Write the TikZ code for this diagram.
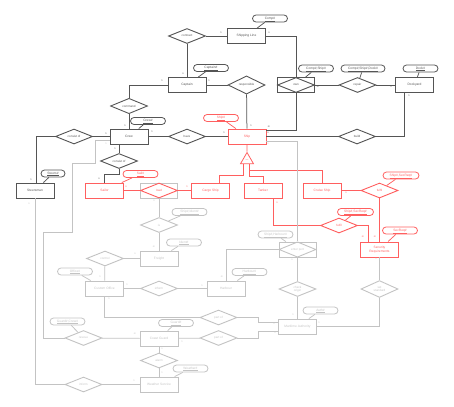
\documentclass[tikz,border=0pt]{standalone}
\usepackage{fontspec}
\setmainfont{Liberation Sans}
\usetikzlibrary{shapes.geometric,positioning}
\definecolor{dk}{RGB}{85,85,85}
\definecolor{rd}{RGB}{255,95,95}
\definecolor{gy}{RGB}{195,195,195}

\begin{document}
\begin{tikzpicture}[x=2pt,y=-2pt,
    ent/.style={draw, rectangle, line width=1.8pt, minimum width=76pt, minimum height=30pt,
                inner sep=1pt, align=center, font=\fontsize{6.5}{7}\selectfont},
    rel/.style={draw, diamond, line width=1.8pt, minimum width=74pt, minimum height=30pt,
                inner sep=0pt, align=center, font=\fontsize{6}{6.5}\selectfont},
    attr/.style={draw, rectangle, rounded corners=7pt, line width=1.6pt, minimum width=70pt,
                 minimum height=14pt, inner sep=1pt, text height=4.7pt, text depth=1pt,
                 font=\fontsize{6.5}{7}\selectfont},
    card/.style={inner sep=0pt, font=\fontsize{5}{5}\selectfont},
    ml/.style={draw=dk, line width=1.5pt},
    nl/.style={draw=rd, line width=1.5pt},
    gl/.style={draw=gy, line width=1.5pt}]
  \useasboundingbox (0,0) rectangle (454,406);

  % old schema (dark)
  \node[ent, dk] (shipline) at (246.5,36) {Shipping Line};
  \node[attr, dk] (compid) at (270,18.5) {\underline{Comp\#}};
  \node[rel, dk] (contract) at (187,36) {contract};
  \node[ent, dk] (captain) at (187,85) {Captain};
  \node[attr, dk] (captid) at (211,68) {\underline{Captain\#}};
  \node[rel, dk] (command) at (129,106) {command};
  \node[rel, dk] (responsible) at (246.5,85) {responsible};
  \node[ent, dk, minimum width=74pt] (ownbox) at (296,85) {};
  \node[rel, dk] (own) at (296,85) {own};
  \node[attr, dk] (ownid) at (316,68.5) {\underline{Comp\#,Ship\#}};
  \node[rel, dk] (repair) at (357.5,85) {repair};
  \node[attr, dk, minimum width=88pt] (repairid) at (363,68.5) {\underline{Comp\#,Ship\#,Dock\#}};
  \node[ent, dk] (dockyard) at (414.5,85) {Dockyard};
  \node[attr, dk] (dockid) at (420.5,68.5) {\underline{Dock\#}};
  \node[ent, dk] (crew) at (129,136.5) {Crew};
  \node[attr, dk] (crewid) at (148,121) {\underline{Crew\#}};
  \node[rel, dk] (consista) at (74,136.5) {consist of};
  \node[rel, dk] (consistb) at (119,161) {consist of};
  \node[ent, dk] (steersman) at (35,190.5) {Steersman};
  \node[attr, dk, minimum width=48pt] (steersid) at (53,173.5) {\underline{Steers\#}};
  \node[rel, dk] (have) at (187,136.5) {have};
  \node[rel, dk] (build) at (357,136.5) {build};

  % new part (red)
  \node[ent, rd] (ship) at (247,136.5) {Ship};
  \node[attr, rd] (shipid) at (221,118) {\underline{Ship\#}};
  \node[draw, rd, line width=1.6pt, regular polygon, regular polygon sides=3, minimum size=30pt,
        inner sep=0pt, font=\fontsize{3.5}{4}\selectfont] (isa) at (247,160) {is a};
  \node[ent, rd] (sailor) at (104.5,190.5) {Sailor};
  \node[attr, rd] (sailid) at (140.5,174) {\underline{Sail\#}};
  \node[ent, gy, minimum width=74pt] (loadbox) at (159,190.5) {};
  \node[rel, rd] (load) at (159,190.5) {load};
  \node[ent, rd] (cargo) at (210.5,190.5) {Cargo Ship};
  \node[ent, rd] (tanker) at (263,190.5) {Tanker};
  \node[ent, rd] (cruise) at (322,190.5) {Cruise Ship};
  \node[rel, rd] (fulfila) at (379.5,190.5) {fulfil};
  \node[attr, rd, minimum width=72pt] (fulfilaid) at (401,175.5) {\underline{Ship\#,SecReq\#}};
  \node[rel, rd] (fulfilb) at (339,225.5) {fulfil};
  \node[attr, rd, minimum width=72pt] (fulfilbid) at (355.5,212) {\underline{Ship\#,SecReq\#}};
  \node[ent, rd] (secreq) at (379.5,249.5) {Security\\Requirements};
  \node[attr, rd] (secreqid) at (400,230.5) {\underline{SecReq\#}};

  % other parts (grey)
  \node[rel, gy] (is) at (159,225) {is};
  \node[attr, gy] (isid) at (189.5,212) {\underline{Ship\#,Ident\#}};
  \node[ent, gy] (freight) at (159,258.5) {Freight};
  \node[attr, gy] (freightid) at (184,242.5) {\underline{Ident\#}};
  \node[rel, gy] (control) at (105,258.5) {control};
  \node[ent, gy] (custom) at (104.5,288.5) {Custom Office};
  \node[attr, gy] (officeid) at (75,271.5) {\underline{Office\#}};
  \node[rel, gy] (informa) at (159,288.5) {inform};
  \node[ent, gy] (harbour) at (226,288.5) {Harbour};
  \node[attr, gy] (harbourid) at (249.5,272) {\underline{Harbour\#}};
  \node[ent, gy, minimum width=74pt] (enterbox) at (297.5,249.5) {};
  \node[rel, gy] (enterport) at (297.5,249.5) {enter port};
  \node[attr, gy] (enterid) at (275.5,234.5) {\underline{Ship\#,Harbour\#}};
  \node[rel, gy] (check) at (297.5,289) {check\\origin};
  \node[rel, gy] (setstd) at (379.5,289) {set\\standard};
  \node[ent, gy] (maritime) at (297.5,326.5) {Maritime Authority};
  \node[attr, gy] (authid) at (320.5,310.5) {\underline{Auth\#}};
  \node[rel, gy] (partofa) at (218.5,317.5) {part of};
  \node[rel, gy] (partofb) at (218.5,338) {part of};
  \node[ent, gy] (coast) at (159,338.5) {Coast Guard};
  \node[attr, gy] (guardid) at (176,323) {\underline{Guard\#}};
  \node[rel, gy] (rescue) at (83.5,338) {rescue};
  \node[attr, gy] (rescueid) at (67.5,321.5) {\underline{Guard\#,Crew\#}};
  \node[rel, gy] (alarm) at (159,360.5) {alarm};
  \node[ent, gy] (weather) at (159,384.5) {Weather Service};
  \node[attr, gy] (weatherid) at (190.5,368.5) {\underline{Weather\#}};
  \node[rel, gy] (informb) at (83.5,384.5) {inform};

  % attribute links
  \draw[ml] (compid) -- (shipline);
  \draw[ml] (captid) -- (captain);
  \draw[ml] (ownid) -- (ownbox);
  \draw[ml] (repairid) -- (repair);
  \draw[ml] (dockid) -- (dockyard);
  \draw[ml] (crewid) -- (crew);
  \draw[ml] (steersid) -- (steersman);
  \draw[nl] (shipid) -- (ship);
  \draw[nl] (sailid) -- (sailor);
  \draw[nl] (fulfilaid) -- (fulfila);
  \draw[nl] (fulfilbid) -- (fulfilb);
  \draw[nl] (secreqid) -- (secreq);
  \foreach \a/\b in {isid/is, freightid/freight, officeid/custom, harbourid/harbour,
                     enterid/enterbox, authid/maritime, guardid/coast, rescueid/rescue,
                     weatherid/weather}
    \draw[gl] (\a) -- (\b);

  % dark connectors
  \draw[ml] (contract) -- (shipline);
  \draw[ml] (contract) -- (captain);
  \draw[ml] (captain.west) -| (command.north);
  \draw[ml] (command) -- (crew);
  \draw[ml] (captain) -- (responsible);
  \draw[ml] (responsible) -- (ship);
  \draw[ml] (shipline.east) -| (own.north);
  \draw[ml] (own.south) |- ([yshift=-3pt]ship.north east);
  \draw[ml] (own) -- (repair);
  \draw[ml] (repair) -- (dockyard);
  \draw[ml] ([xshift=-21pt]dockyard.south) |- (build.east);
  \draw[ml] (ship) -- (build);
  \draw[ml] (crew) -- (consista);
  \draw[ml] (consista.west) -| ([xshift=2pt]steersman.north);
  \draw[ml] (crew) -- (have);
  \draw[ml] (have) -- (ship);
  \draw[ml] ([xshift=-20pt]crew.south) -- (consistb.north);
  \draw[ml] (consistb.south) -- ++(0,5) -| (sailor.north);

  % red connectors
  \draw[nl] (ship) -- (isa.north);
  \draw[nl] ([xshift=-8pt]isa.south) |- ([xshift=17pt,yshift=14pt]cargo.north) -- ([xshift=17pt]cargo.north);
  \draw[nl] ([xshift=4pt]isa.south) |- ([yshift=12pt]tanker.north) -- (tanker.north);
  \draw[nl] ([xshift=4pt]isa.south) |- ([yshift=24pt]cruise.north) -- (cruise.north);
  \draw[nl] (sailor) -- (load);
  \draw[nl] (load) -- (cargo);
  \draw[nl] (cruise) -- (fulfila);
  \draw[nl] (fulfila) -- (secreq);
  \draw[nl] ([xshift=20pt]tanker.south) |- (fulfilb.west);
  \draw[nl] (fulfilb.east) -| ([xshift=-22pt]secreq.north);

  % grey connectors
  \draw[gl] ([yshift=-9pt]ship.east) -| (enterport.north);
  \draw[gl] (load) -- (is);
  \draw[gl] (is) -- (freight);
  \draw[gl] (freight) -- (control);
  \draw[gl] (control) -- (custom);
  \draw[gl] (custom) -- (informa);
  \draw[gl] (informa) -- (harbour);
  \draw[gl] (harbour.north) |- (enterport.west);
  \draw[gl] (enterport) -- (check);
  \draw[gl] (check) -- (maritime);
  \draw[gl] (maritime.east) -| (setstd.south);
  \draw[gl] (setstd) -- (secreq);
  \draw[gl] (custom.south) |- (partofa.west);
  \draw[gl] (partofa.east) -| ([xshift=-40pt,yshift=9pt]maritime.west) -- ([yshift=9pt]maritime.west);
  \draw[gl] (partofb.east) -| ([xshift=-40pt,yshift=-9pt]maritime.west) -- ([yshift=-9pt]maritime.west);
  \draw[gl] (coast) -- (partofb);
  \draw[gl] ([yshift=-8pt]crew.west) -- ++(-14,0) -- ++(0,22.5) -- ++(-23,0) -- ++(0,69)
            -- ++(-29,0) |- (rescue.west);
  \draw[gl] (rescue) -- (coast);
  \draw[gl] (coast) -- (alarm);
  \draw[gl] (alarm) -- (weather);
  \draw[gl] (steersman.south) |- (informb.west);
  \draw[gl] (informb) -- (weather);

  % cardinalities
  \foreach \x/\y/\t [count=\i] in {221/33/1, 269/33/n, 183/74/n, 162/81/1, 209/81/1,
      251/126/1, 269/127/m, 318/87/m, 391/87/n, 409/96/1, 268/133/n, 125/126/1,
      106/134/1, 152/132/1, 224/133/1, 31/180/1, 115/149/1, 99/179/n}
    \node[card, dk] (cd\i) at (\x,\y) {\t};
  \foreach \x/\y/\t [count=\i] in {126/187/n, 187/187/1, 346/193/n, 375/237/m,
      277/203/n, 363/237/m}
    \node[card, rd] (cr\i) at (\x,\y) {\t};
  \foreach \x/\y/\t [count=\i] in {268/144/1, 29/204/n, 154/201/n, 154/247/m,
      135/254/n, 100/277/1, 127/285/1, 202/286/1, 222/277/m, 292/260/n, 293/315/1,
      319/323/1, 376/259/n, 109/299/1, 274/324/1, 275/333/1, 182/342/1, 106/144/1,
      135/334/m, 162/349/n, 162/373/1, 134/381/1}
    \node[card, gy] (cg\i) at (\x,\y) {\t};
\end{tikzpicture}
\end{document}
